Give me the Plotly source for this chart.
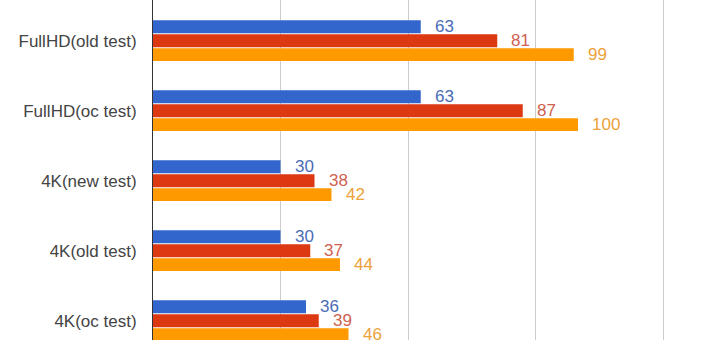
import plotly.graph_objects as go

categories = ["FullHD(old test)", "FullHD(oc test)", "4K(new test)", "4K(old test)", "4K(oc test)"]
series_names = ["Series A", "Series B", "Series C"]
series_a = [63, 63, 30, 30, 36]
series_b = [81, 87, 38, 37, 39]
series_c = [99, 100, 42, 44, 46]
grid_ticks = [0, 30, 60, 90, 120, 150]

bar_colors = ["#3366CC", "#DC3912", "#FF9900"]
label_colors = ["#4a6cb5", "#cf6150", "#eba23a"]
series_values = [series_a, series_b, series_c]

W, H = 720, 340
left = 153
px_per_unit = 4.25
group_px = 70.0
first_center_px = 40.7
slot_px = 13.95

fig = go.Figure()
for name, vals, col in zip(series_names, series_values, bar_colors):
    fig.add_trace(go.Bar(
        y=categories, x=vals, orientation="h", name=name,
        marker=dict(color=col, line=dict(width=0)),
        hoverinfo="x+name",
    ))

font_family = "Arial, 'Liberation Sans', sans-serif"
annotations = []
for i, (vals, lc) in enumerate(zip(series_values, label_colors)):
    for cat, v in zip(categories, vals):
        annotations.append(dict(
            x=v, y=cat, xref="x", yref="y", text=str(v), showarrow=False,
            xanchor="left", yanchor="middle", xshift=12, yshift=(1 - i) * slot_px,
            font=dict(family=font_family, size=17, color=lc),
        ))

y_top = -first_center_px / group_px
y_bot = (H - first_center_px) / group_px

fig.update_layout(
    width=W, height=H,
    margin=dict(l=left, r=0, t=0, b=0),
    paper_bgcolor="white", plot_bgcolor="white",
    barmode="group", bargap=0.404, bargroupgap=0.07,
    showlegend=False,
    annotations=annotations,
    font=dict(family=font_family),
    xaxis=dict(
        range=[0, (W - left) / px_per_unit],
        tickvals=grid_ticks, showticklabels=False,
        showgrid=True, gridcolor="#cccccc", gridwidth=1,
        zeroline=False, showline=False, fixedrange=True,
    ),
    yaxis=dict(
        type="category", categoryorder="array", categoryarray=categories,
        range=[y_bot, y_top],
        showgrid=False, zeroline=False,
        showline=True, linecolor="#333333", linewidth=1,
        ticks="", ticklabelstandoff=12,
        tickfont=dict(family=font_family, size=17, color="#444444"),
        fixedrange=True,
    ),
)

fig.write_html("out.html")
